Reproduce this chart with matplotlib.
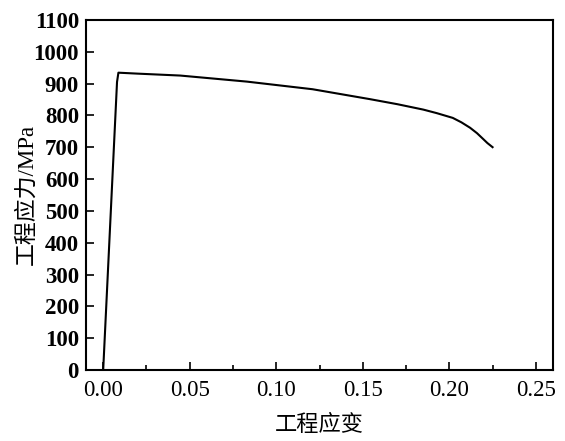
import matplotlib
matplotlib.use('Agg')
import matplotlib.pyplot as plt
from matplotlib.ticker import MultipleLocator

# 工程应力-应变曲线
strain = [0.0, 0.0080, 0.0088, 0.020, 0.0445, 0.083, 0.121, 0.154,
          0.170, 0.185, 0.1927, 0.202, 0.207, 0.212, 0.216, 0.2195,
          0.222, 0.225]
stress = [0, 905, 934, 931, 925, 906, 882, 851,
          835, 818, 807, 792, 778, 761, 744, 726,
          713, 700]

xticks = [0.00, 0.05, 0.10, 0.15, 0.20, 0.25]
yticks = list(range(0, 1101, 100))

serif = ['Liberation Serif', 'Noto Sans CJK SC']

fig = plt.figure(figsize=(5.65, 4.41), dpi=100)
ax = fig.add_axes([0.152, 0.161, 0.827, 0.794])
ax.plot(strain, stress, color='black', lw=1.5)

ax.set_xlim(-0.01, 0.26)
ax.set_ylim(0, 1100)
ax.set_xticks(xticks)
ax.set_xticklabels(['%.2f' % v for v in xticks], family=serif, fontsize=16.5)
ax.set_yticks(yticks)
ax.set_yticklabels([str(v) for v in yticks], family=serif, fontsize=16.5,
                   fontweight='bold')
ax.xaxis.set_minor_locator(MultipleLocator(0.025))
ax.tick_params(axis='both', which='major', direction='in', length=6,
               width=1.2, top=False, right=False)
ax.tick_params(axis='x', which='minor', direction='in', length=3.5,
               width=1.2, top=False)
ax.tick_params(axis='x', pad=7)
ax.tick_params(axis='y', pad=5)
for s in ax.spines.values():
    s.set_linewidth(1.5)

ax.set_xlabel('工程应变', family=serif, fontsize=16, labelpad=10)
ax.set_ylabel('工程应力/MPa', family=serif, fontsize=16.5, labelpad=-3)

fig.savefig('out.png', dpi=100)
